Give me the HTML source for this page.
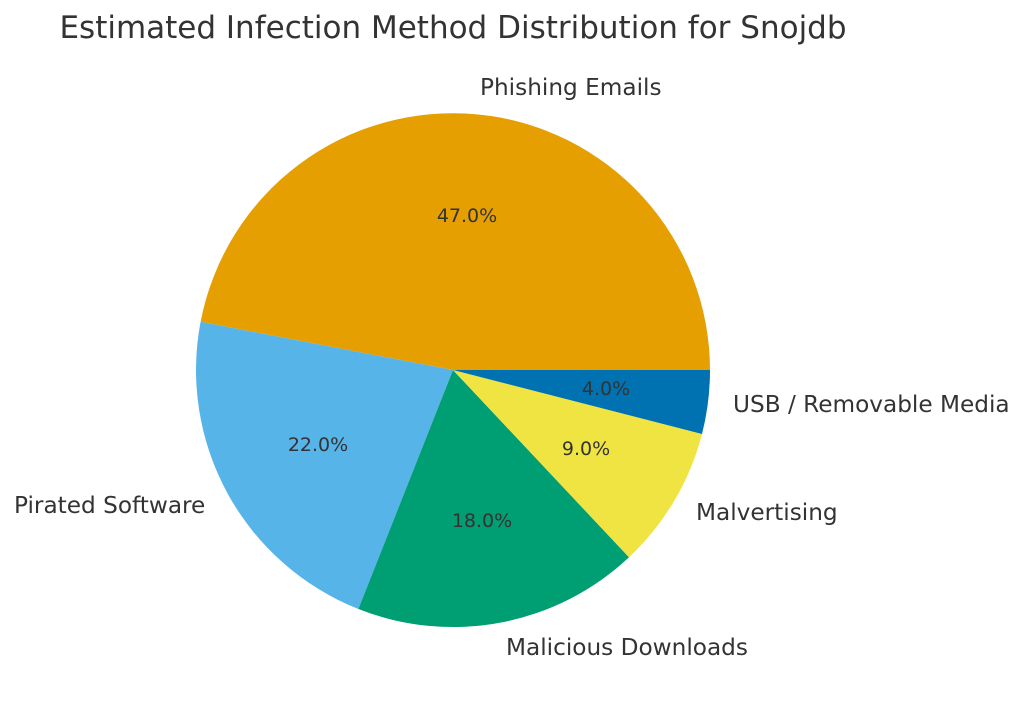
<!DOCTYPE html>
<html><head><style>body{margin:0;background:#fff}svg{display:block}text{font-family:"DejaVu Sans","Liberation Sans",sans-serif;fill:#333}</style></head>
<body>
<svg width="1024" height="705" viewBox="0 0 1024 705">
<text x="453" y="38" font-size="31" text-anchor="middle">Estimated Infection Method Distribution for Snojdb</text>
<path d="M453,370 L710,370 A257,257 0 0 0 200.6,321.8 Z" fill="#E69F00"/>
<path d="M453,370 L200.6,321.8 A257,257 0 0 0 358.4,609 Z" fill="#56B4E9"/>
<path d="M453,370 L358.4,609 A257,257 0 0 0 629,557.3 Z" fill="#009E73"/>
<path d="M453,370 L629,557.3 A257,257 0 0 0 702,434 Z" fill="#F0E442"/>
<path d="M453,370 L702,434 A257,257 0 0 0 710,370 Z" fill="#0072B2"/>
<g font-size="19" text-anchor="middle">
<text x="467" y="222">47.0%</text>
<text x="318" y="451">22.0%</text>
<text x="482" y="527">18.0%</text>
<text x="586" y="455">9.0%</text>
<text x="606" y="395">4.0%</text>
</g>
<g font-size="23.2">
<text x="480" y="95">Phishing Emails</text>
<text x="14" y="513">Pirated Software</text>
<text x="506" y="655">Malicious Downloads</text>
<text x="696" y="520">Malvertising</text>
<text x="733" y="412">USB / Removable Media</text>
</g>
</svg>
</body></html>
